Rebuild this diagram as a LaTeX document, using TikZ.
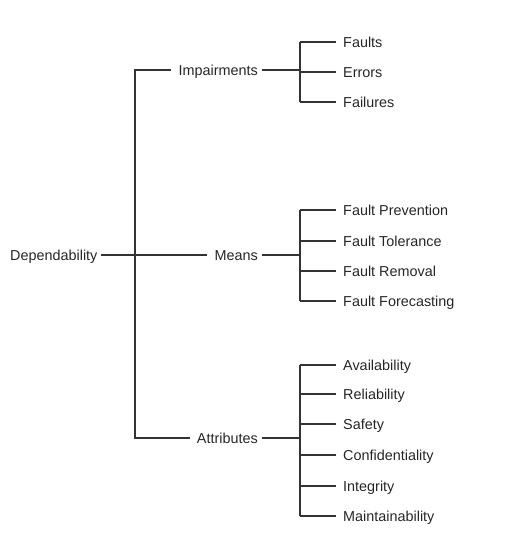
\documentclass[tikz,border=0pt]{standalone}
\usepackage{fontspec}
\setmainfont{Liberation Sans}
\begin{document}
\begin{tikzpicture}[x=1pt,y=-1pt,
  lbl/.style={inner xsep=3.5pt,inner ysep=0pt,text height=10.3pt,text depth=0pt,
    font=\fontsize{14.4}{17}\selectfont,text=black!85},
  mid/.style={lbl,anchor=east},
  leaf/.style={lbl,anchor=west},
  conn/.style={line width=1.3pt,draw=black!80}]
\useasboundingbox (0,0) rectangle (512,554);
% root
\node[lbl,anchor=west] (dep) at (6.5,255) {Dependability};
% middle
\node[mid] (imp) at (261.5,70) {Impairments};
\node[mid] (mea) at (261.5,255) {Means};
\node[mid] (att) at (261.5,438) {Attributes};
% leaves
\node[leaf] (f1) at (339.5,42) {Faults};
\node[leaf] (f2) at (339.5,72) {Errors};
\node[leaf] (f3) at (339.5,102) {Failures};
\node[leaf] (m1) at (339.5,210) {Fault Prevention};
\node[leaf] (m2) at (339.5,241) {Fault Tolerance};
\node[leaf] (m3) at (339.5,271) {Fault Removal};
\node[leaf] (m4) at (339.5,301) {Fault Forecasting};
\node[leaf] (a1) at (339.5,365) {Availability};
\node[leaf] (a2) at (339.5,394) {Reliability};
\node[leaf] (a3) at (339.5,424) {Safety};
\node[leaf] (a4) at (339.5,455) {Confidentiality};
\node[leaf] (a5) at (339.5,486) {Integrity};
\node[leaf] (a6) at (339.5,516) {Maintainability};
% trunk coordinates
\coordinate (tr) at (135,0);
\coordinate (br) at (300,0);
% root connectors
\draw[conn,shorten >=4pt] (dep.east) -- (mea.west);
\draw[conn,shorten <=3.5pt,shorten >=3.5pt] (imp.west) -- (imp.west -| tr) |- (att.west);
% branch: impairments
\draw[conn] (imp.east) -- (imp.east -| br);
\draw[conn] (f1.west -| br) -- (f3.west -| br);
\foreach \n in {f1,f2,f3} \draw[conn,shorten >=3.5pt] (\n.west -| br) -- (\n.west);
% branch: means
\draw[conn] (mea.east) -- (mea.east -| br);
\draw[conn] (m1.west -| br) -- (m4.west -| br);
\foreach \n in {m1,m2,m3,m4} \draw[conn,shorten >=3.5pt] (\n.west -| br) -- (\n.west);
% branch: attributes
\draw[conn] (att.east) -- (att.east -| br);
\draw[conn] (a1.west -| br) -- (a6.west -| br);
\foreach \n in {a1,a2,a3,a4,a5,a6} \draw[conn,shorten >=3.5pt] (\n.west -| br) -- (\n.west);
\end{tikzpicture}
\end{document}
